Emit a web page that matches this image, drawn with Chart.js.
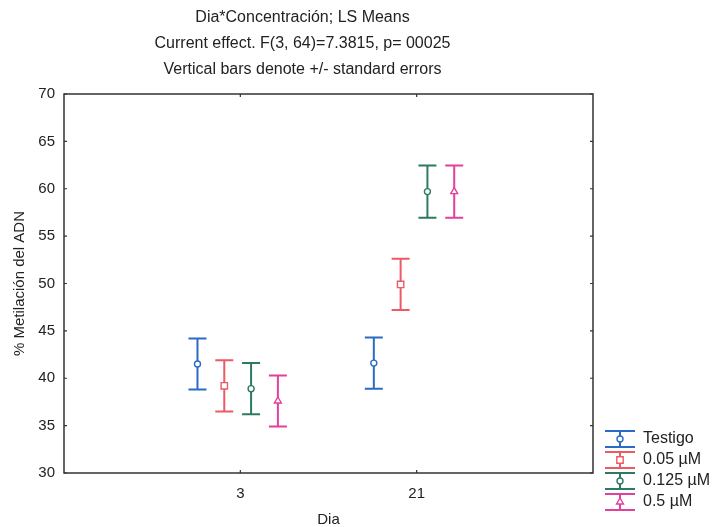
<!DOCTYPE html>
<html>
<head>
<meta charset="utf-8">
<script src="https://cdn.jsdelivr.net/npm/chart.js@4.4.1/dist/chart.umd.min.js"></script>
<style>
  html, body { margin: 0; padding: 0; background: #fff; }
  #wrap { width: 715px; height: 527px; position: relative; }
</style>
</head>
<body>
<div id="wrap"><canvas id="c" width="715" height="527"></canvas></div>
<script>
// ---- data ----
const days = ['3', '21'];
const seriesNames = ['Testigo', '0.05 µM', '0.125 µM', '0.5 µM'];
const testigoMean = [41.5, 41.6];
const c005Mean = [39.2, 49.9];
const c0125Mean = [38.9, 59.7];
const c05Mean = [37.6, 59.7];
const testigoSE = [2.7, 2.7];
const c005SE = [2.7, 2.7];
const c0125SE = [2.7, 2.75];
const c05SE = [2.7, 2.75];
const yTicks = [30, 35, 40, 45, 50, 55, 60, 65, 70];

// ---- styling ----
const colors = ['#2a6cc4', '#ec5a66', '#2e7a60', '#e2409c'];
const markers = ['circle', 'rect', 'circle', 'triangle'];
const markerRadius = [3, 4.5, 3, 4];
const groupOffsets = [-0.243, -0.091, 0.061, 0.213];
const FONT = 'Liberation Sans, Arial, Helvetica, sans-serif';
const TXT = '#222';

const means = [testigoMean, c005Mean, c0125Mean, c05Mean];
const ses = [testigoSE, c005SE, c0125SE, c05SE];

const datasets = seriesNames.map((name, s) => ({
  label: name,
  data: days.map((d, i) => ({ x: i + groupOffsets[s], y: means[s][i] })),
  se: ses[s],
  borderColor: colors[s],
  backgroundColor: '#ffffff',
  pointStyle: markers[s],
  pointRadius: markerRadius[s],
  pointBorderWidth: 1.4,
  showLine: false
}));

const errorBars = {
  id: 'errorBars',
  beforeDatasetsDraw(chart) {
    const ctx = chart.ctx;
    const y = chart.scales.y;
    chart.data.datasets.forEach((ds, di) => {
      const meta = chart.getDatasetMeta(di);
      meta.data.forEach((pt, i) => {
        const m = ds.data[i].y, e = ds.se[i];
        const top = y.getPixelForValue(m + e);
        const bot = y.getPixelForValue(m - e);
        const half = 9;
        ctx.save();
        ctx.strokeStyle = ds.borderColor;
        ctx.lineWidth = 2;
        ctx.beginPath();
        ctx.moveTo(pt.x, top); ctx.lineTo(pt.x, bot);
        ctx.moveTo(pt.x - half, top); ctx.lineTo(pt.x + half, top);
        ctx.moveTo(pt.x - half, bot); ctx.lineTo(pt.x + half, bot);
        ctx.stroke();
        ctx.restore();
      });
    });
  }
};

const frame = {
  id: 'frame',
  afterDraw(chart) {
    const ctx = chart.ctx;
    const a = chart.chartArea;
    const y = chart.scales.y, x = chart.scales.x;
    ctx.save();
    ctx.strokeStyle = '#333';
    ctx.lineWidth = 1.5;
    ctx.strokeRect(a.left, a.top, a.right - a.left, a.bottom - a.top);
    ctx.lineWidth = 1.2;
    ctx.beginPath();
    yTicks.forEach(v => {
      const py = y.getPixelForValue(v);
      ctx.moveTo(a.left, py); ctx.lineTo(a.left + 3, py);
      ctx.moveTo(a.right, py); ctx.lineTo(a.right - 3, py);
    });
    days.forEach((d, i) => {
      const px = x.getPixelForValue(i);
      ctx.moveTo(px, a.bottom); ctx.lineTo(px, a.bottom - 3);
      ctx.moveTo(px, a.top); ctx.lineTo(px, a.top + 3);
    });
    ctx.stroke();
    ctx.restore();
  }
};

const legendPlugin = {
  id: 'customLegend',
  afterDraw(chart) {
    const ctx = chart.ctx;
    const cx = 620, tx = 643, y0 = 439, dy = 21;
    ctx.save();
    chart.data.datasets.forEach((ds, s) => {
      const cy = y0 + s * dy;
      ctx.strokeStyle = ds.borderColor;
      ctx.lineWidth = 2;
      ctx.beginPath();
      ctx.moveTo(cx, cy - 8); ctx.lineTo(cx, cy + 8);
      ctx.moveTo(cx - 15, cy - 8); ctx.lineTo(cx + 15, cy - 8);
      ctx.moveTo(cx - 15, cy + 8); ctx.lineTo(cx + 15, cy + 8);
      ctx.stroke();
      ctx.fillStyle = '#fff';
      ctx.lineWidth = 1.4;
      Chart.helpers.drawPoint(ctx, { pointStyle: ds.pointStyle, radius: ds.pointRadius, borderWidth: 1.4, rotation: 0 }, cx, cy);
      ctx.fillStyle = TXT;
      ctx.font = '16px ' + FONT;
      ctx.textBaseline = 'middle';
      ctx.textAlign = 'left';
      ctx.fillText(ds.label, tx, cy);
    });
    ctx.restore();
  }
};

new Chart(document.getElementById('c'), {
  type: 'scatter',
  data: { datasets },
  plugins: [errorBars, frame, legendPlugin],
  options: {
    responsive: false,
    animation: false,
    layout: { padding: { left: 0, right: 110, top: 0, bottom: 0 } },
    plugins: {
      legend: { display: false },
      tooltip: { enabled: false },
      title: {
        display: true,
        text: ['Dia*Concentración; LS Means', 'Current effect. F(3, 64)=7.3815, p= 00025', 'Vertical bars denote +/- standard errors'],
        color: TXT,
        font: { family: FONT, size: 16, weight: 'normal', lineHeight: 1.625 },
        padding: { top: 5, bottom: 11 }
      }
    },
    scales: {
      x: {
        type: 'linear',
        min: -1, max: 2,
        grid: { display: false, drawTicks: false },
        border: { display: false },
        afterBuildTicks(scale) { scale.ticks = days.map((d, i) => ({ value: i })); },
        afterFit(scale) { scale.height = 54; },
        ticks: {
          color: TXT, padding: 12,
          font: { family: FONT, size: 15 },
          callback: (v) => days[v]
        },
        title: {
          display: true, text: 'Dia', color: TXT,
          font: { family: FONT, size: 15, lineHeight: 1.0 },
          padding: { top: 0, bottom: 0 }
        }
      },
      y: {
        min: 30, max: 70,
        grid: { display: false, drawTicks: false },
        border: { display: false },
        afterBuildTicks(scale) { scale.ticks = yTicks.map(v => ({ value: v })); },
        afterFit(scale) { scale.width = 64; },
        ticks: { color: TXT, padding: 9, font: { family: FONT, size: 15 } },
        title: {
          display: true, text: '% Metilación del ADN', color: TXT,
          font: { family: FONT, size: 15 },
          padding: { top: 11, bottom: 0 }
        }
      },
      y2: {
        position: 'right',
        min: 30, max: 70,
        grid: { display: false, drawTicks: false },
        border: { display: false },
        ticks: { display: false },
        afterFit(scale) { scale.width = 12; }
      }
    }
  }
});
</script>
</body>
</html>
